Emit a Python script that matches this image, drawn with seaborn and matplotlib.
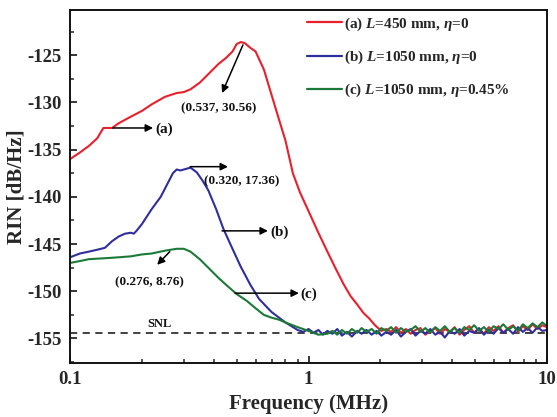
import numpy as np
import pandas as pd
import matplotlib
matplotlib.use("Agg")
import matplotlib.pyplot as plt
import seaborn as sns
from matplotlib.ticker import FixedLocator, MultipleLocator, LogLocator, NullFormatter, FixedFormatter

# ---------------- data ----------------
red_f = [0.10, 0.11, 0.12, 0.13, 0.138, 0.15, 0.16, 0.18, 0.20, 0.22, 0.25, 0.28, 0.30,
         0.32, 0.35, 0.38, 0.42, 0.45, 0.48, 0.50, 0.52, 0.54, 0.57, 0.60, 0.65, 0.70,
         0.75, 0.80, 0.86, 0.92, 1.00, 1.10, 1.20, 1.30, 1.40, 1.50, 1.60, 1.70, 1.80,
         1.90, 2.02,
         2.12, 2.22, 2.33, 2.44, 2.56, 2.68, 2.81, 2.95, 3.09, 3.24, 3.40, 3.56, 3.73,
         3.91, 4.10, 4.30, 4.50, 4.72, 4.95, 5.19, 5.44, 5.70, 5.97, 6.26, 6.56, 6.88,
         7.21, 7.56, 7.92, 8.30, 8.70, 9.12, 9.56, 10.0]
red_v = [-136.0, -135.3, -134.6, -133.8, -132.7, -132.7, -132.2, -131.5, -130.9, -130.2,
         -129.4, -129.0, -128.9, -128.6, -127.9, -127.0, -125.9, -125.3, -124.6, -123.8,
         -123.6, -123.7, -124.2, -124.6, -126.5, -129.2, -131.7, -134.0, -137.5, -139.5,
         -141.5, -143.8, -145.8, -147.6, -149.2, -150.5, -151.4, -152.3, -152.9, -153.6,
         -154.2,
         -154.0, -154.3, -153.8, -154.4, -154.0, -154.5, -154.1, -153.9, -154.6, -154.2,
         -153.9, -154.5, -154.0, -154.3, -153.8, -154.6, -154.1, -153.7, -154.4, -154.0,
         -154.5, -153.8, -154.2, -153.7, -154.4, -153.9, -153.6, -154.3, -153.7, -154.1,
         -153.5, -154.0, -153.6, -153.8]

blue_f = [0.10, 0.11, 0.12, 0.13, 0.14, 0.15, 0.16, 0.17, 0.18, 0.185, 0.19, 0.20, 0.22,
          0.24, 0.26, 0.27, 0.28, 0.29, 0.30, 0.32, 0.34, 0.36, 0.38, 0.41, 0.44, 0.48,
          0.52, 0.57, 0.62, 0.70, 0.80, 0.90,
          0.95, 1.00, 1.05, 1.10, 1.15, 1.20, 1.26, 1.32, 1.38, 1.45, 1.52, 1.60, 1.67,
          1.75, 1.84, 1.93, 2.02, 2.12, 2.22, 2.33, 2.44, 2.56, 2.68, 2.81, 2.95, 3.09,
          3.24, 3.40, 3.56, 3.73, 3.91, 4.10, 4.30, 4.50, 4.72, 4.95, 5.19, 5.44, 5.70,
          5.97, 6.26, 6.56, 6.88, 7.21, 7.56, 7.92, 8.30, 8.70, 9.12, 9.56, 10.0]
blue_v = [-146.4, -146.0, -145.8, -145.6, -145.4, -144.7, -144.2, -143.9, -143.8, -143.9,
          -143.6, -142.9, -141.3, -140.0, -138.3, -137.5, -137.1, -137.2, -137.1, -136.9,
          -137.4, -138.3, -139.3, -141.3, -143.4, -145.5, -147.4, -149.3, -150.8, -152.2,
          -153.3, -154.1,
          -154.3, -154.0, -154.4, -154.1, -154.6, -154.2, -154.5, -154.0, -154.7, -154.3,
          -154.8, -154.2, -154.5, -154.1, -154.6, -154.2, -154.7, -154.3, -154.6, -154.1,
          -154.8, -154.3, -154.0, -154.7, -154.2, -154.5, -154.0, -154.6, -154.3, -154.9,
          -154.2, -154.5, -154.0, -154.7, -154.2, -154.4, -153.9, -154.6, -154.1, -154.5,
          -153.9, -154.4, -154.0, -154.5, -153.8, -154.3, -153.9, -154.4, -153.8, -154.2,
          -154.1]

green_f = [0.10, 0.11, 0.12, 0.14, 0.16, 0.18, 0.20, 0.22, 0.25, 0.28, 0.30, 0.32, 0.35,
           0.38, 0.42, 0.46, 0.50, 0.55, 0.60, 0.65, 0.70, 0.75, 0.80, 0.90, 1.00, 1.10,
           1.20,
           1.26, 1.32, 1.38, 1.45, 1.52, 1.60, 1.67, 1.75, 1.84, 1.93, 2.02, 2.12, 2.22,
           2.33, 2.44, 2.56, 2.68, 2.81, 2.95, 3.09, 3.24, 3.40, 3.56, 3.73, 3.91, 4.10,
           4.30, 4.50, 4.72, 4.95, 5.19, 5.44, 5.70, 5.97, 6.26, 6.56, 6.88, 7.21, 7.56,
           7.92, 8.30, 8.70, 9.12, 9.56, 10.0]
green_v = [-147.0, -146.8, -146.6, -146.5, -146.4, -146.3, -146.1, -146.0, -145.7, -145.5,
           -145.5, -145.8, -146.6, -147.5, -148.6, -149.5, -150.3, -151.0, -151.8, -152.5,
           -152.8, -153.0, -153.3, -153.8, -154.2, -154.6, -154.5,
           -154.2, -154.6, -154.1, -154.5, -154.0, -154.4, -153.9, -154.3, -154.0, -154.5,
           -153.9, -154.2, -153.8, -154.4, -153.9, -154.3, -154.1, -153.7, -154.3, -153.9,
           -154.4, -153.8, -154.2, -153.7, -154.3, -153.9, -154.4, -153.8, -154.1, -153.6,
           -154.2, -153.8, -154.3, -153.7, -154.0, -153.5, -154.1, -153.7, -154.2, -153.5,
           -153.9, -153.4, -153.8, -153.3, -153.7]

series_labels = [r"(a) $L$=450 mm, $\eta$=0",
                 r"(b) $L$=1050 mm, $\eta$=0",
                 r"(c) $L$=1050 mm, $\eta$=0.45%"]
colors = ["#E8202C", "#2E2E9E", "#1C7A38"]

snl_level = -154.4

x_ticks = [0.1, 1, 10]
x_tick_labels = ["0.1", "1", "10"]
y_ticks = [-125, -130, -135, -140, -145, -150, -155]

# annotations: (text, arrow start (f, v), arrow end (f, v), text pos (f, v), ha, size)
annotations = [
    ("(a)", (0.151, -132.7), (0.223, -132.7), (0.227, -132.8), "left", 11),
    ("(0.537, 30.56)", (0.531, -123.9), (0.434, -129.0), (0.422, -130.6), "center", 9.5),
    ("(0.320, 17.36)", (0.319, -136.8), (0.46, -136.8), (0.526, -138.4), "center", 9.5),
    ("(b)", (0.434, -143.6), (0.676, -143.6), (0.69, -143.7), "left", 11),
    ("(c)", (0.492, -150.2), (0.912, -150.2), (0.922, -150.3), "left", 11),
    ("(0.276, 8.76)", (0.262, -145.8), (0.232, -147.2), (0.216, -149.1), "center", 9.5),
]

# ---------------- build long table ----------------
df = pd.concat([
    pd.DataFrame({"f": red_f, "rin": red_v, "series": series_labels[0]}),
    pd.DataFrame({"f": blue_f, "rin": blue_v, "series": series_labels[1]}),
    pd.DataFrame({"f": green_f, "rin": green_v, "series": series_labels[2]}),
], ignore_index=True)

sns.set_theme(style="ticks")
plt.rcParams["font.family"] = ["Liberation Serif", "DejaVu Serif"]
plt.rcParams["font.weight"] = "bold"
plt.rcParams["axes.unicode_minus"] = False
plt.rcParams["mathtext.fontset"] = "custom"
plt.rcParams["mathtext.rm"] = "Liberation Serif:bold"
plt.rcParams["mathtext.it"] = "Liberation Serif:italic:bold"
plt.rcParams["mathtext.bf"] = "Liberation Serif:bold"

fig = plt.figure(figsize=(5.57, 4.17), dpi=100)
ax = fig.add_axes([70 / 557, 1 - 363 / 417, 477 / 557, 353 / 417])

sns.lineplot(data=df, x="f", y="rin", hue="series", palette=colors,
             hue_order=series_labels, sort=False, estimator=None,
             linewidth=1.5, ax=ax, legend=True)

ax.axhline(snl_level, color="#333333", lw=1.3, ls=(0, (4, 3)), zorder=0.5)

ax.set_xscale("log")
ax.set_xlim(0.1, 10)
ax.set_ylim(-157.6, -120.2)

ax.xaxis.set_major_locator(FixedLocator(x_ticks))
ax.xaxis.set_major_formatter(FixedFormatter(x_tick_labels))
ax.xaxis.set_minor_locator(LogLocator(base=10, subs=np.arange(2, 10)))
ax.xaxis.set_minor_formatter(NullFormatter())
ax.yaxis.set_major_locator(FixedLocator(y_ticks))
ax.yaxis.set_minor_locator(MultipleLocator(2.5))

ax.tick_params(axis="both", which="major", direction="in", length=5, width=1.3,
               labelsize=13.5, pad=6)
ax.tick_params(axis="both", which="minor", direction="in", length=3, width=1.1)
for lab in ax.get_xticklabels() + ax.get_yticklabels():
    lab.set_fontweight("bold")

for sp in ax.spines.values():
    sp.set_linewidth(1.4)
    sp.set_color("#111111")

ax.set_xlabel("Frequency (MHz)", fontsize=15, fontweight="bold")
ax.set_ylabel("RIN [dB/Hz]", fontsize=15, fontweight="bold")
ax.xaxis.set_label_coords(0.5, -0.088)
ax.yaxis.set_label_coords(-0.092, 0.5)

for txt, start, end, tpos, ha, fs in annotations:
    ax.annotate("", xy=end, xytext=start,
                arrowprops=dict(arrowstyle="-|>", color="black", lw=1.1,
                                mutation_scale=11, shrinkA=0, shrinkB=0))
    ax.text(tpos[0], tpos[1], txt, ha=ha, va="center", fontsize=fs,
            fontweight="bold", color="#111111")

ax.text(0.236, -153.5, "SNL", ha="center", va="center", fontsize=9,
        fontweight="bold", color="#111111")

leg = ax.legend(loc="upper left", bbox_to_anchor=(0.497, 0.985), frameon=False,
                fontsize=11, handlelength=2.3, handletextpad=0.1,
                labelspacing=1.05, borderpad=0, borderaxespad=0)
for t in leg.get_texts():
    t.set_fontweight("bold")
for h in leg.get_lines():
    h.set_linewidth(1.6)

fig.savefig("out.png", dpi=100)
